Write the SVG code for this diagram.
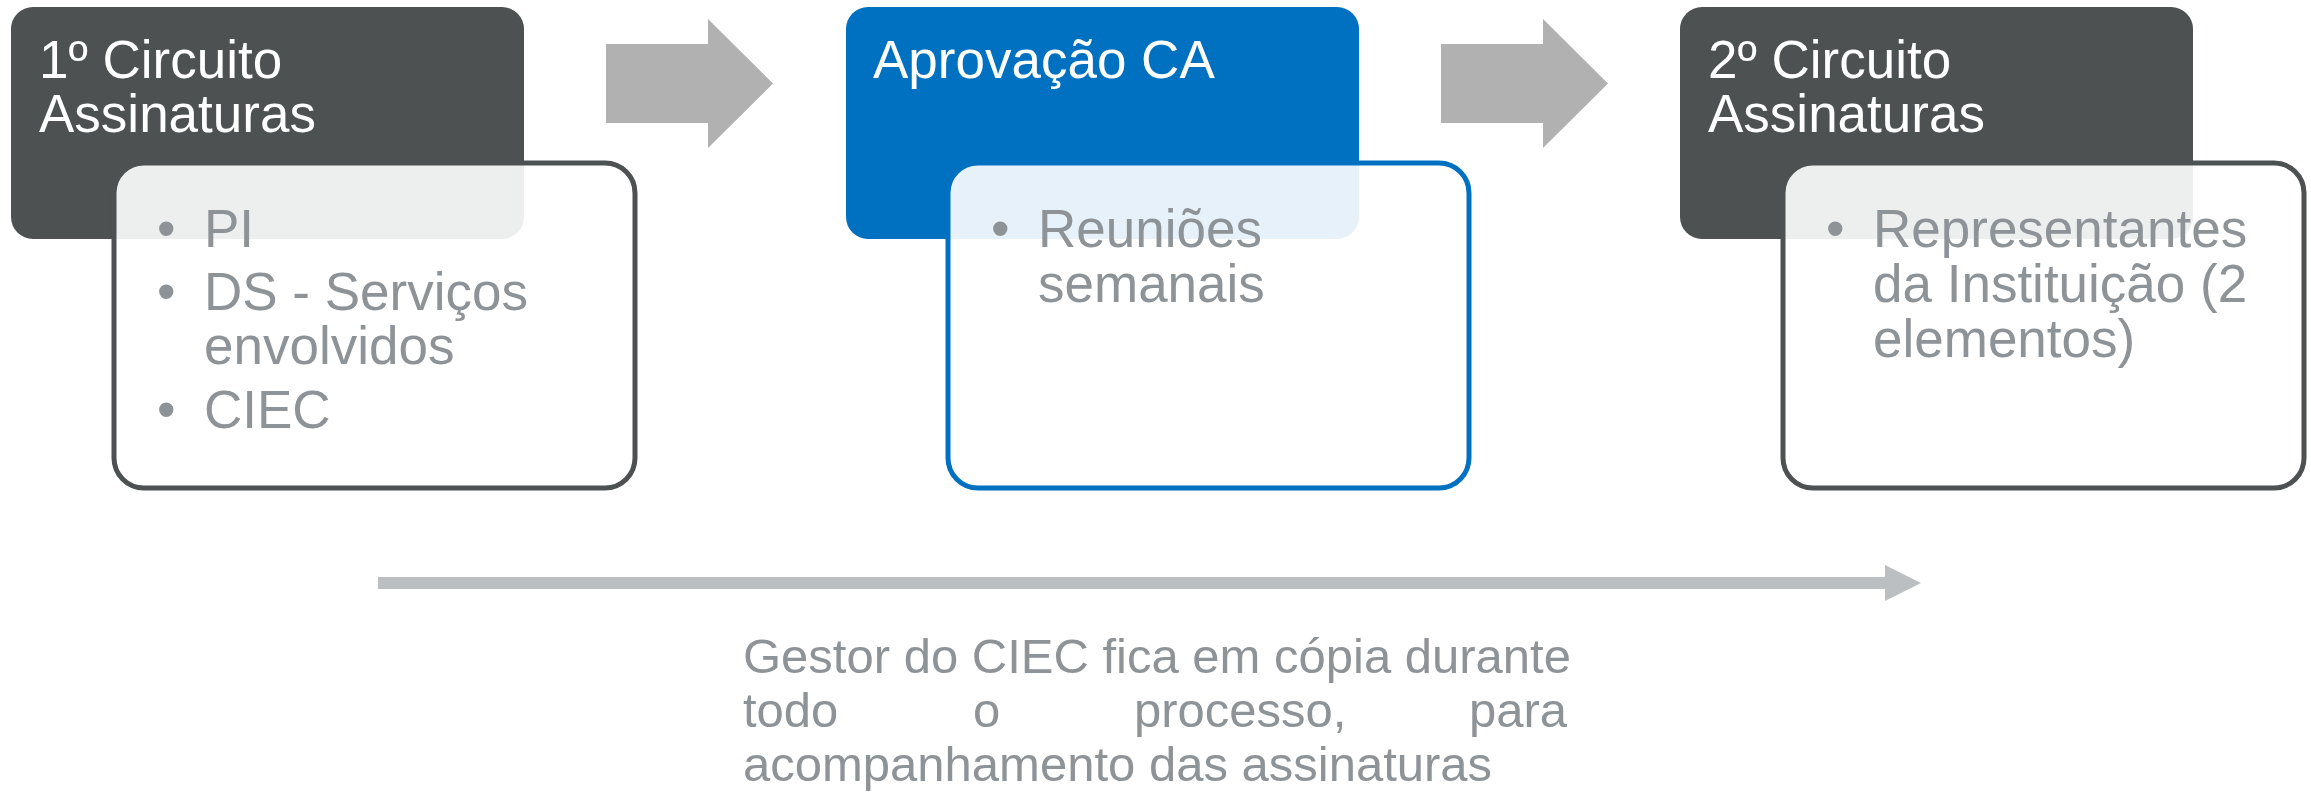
<svg xmlns="http://www.w3.org/2000/svg" width="2311" height="793" viewBox="0 0 2311 793">
<style>
.hdr{font-family:"Liberation Sans",Arial,sans-serif;font-size:53px;fill:#ffffff}
.bul{font-family:"Liberation Sans",Arial,sans-serif;font-size:53px;fill:#8e9398}
.note{font-family:"Liberation Sans",Arial,sans-serif;font-size:49px;fill:#8e9398}
.dark{fill:#4d5152}
.blue{fill:#0070c0}
.card{fill:#ffffff;fill-opacity:0.9;stroke-width:5}
.step{fill:#b0b1b0}
</style>
<rect width="2311" height="793" fill="#ffffff"/>
<g id="connectors">
<polygon class="step" points="606,44 708,44 708,19 773,83.5 708,148 708,123 606,123"/>
<polygon class="step" points="1441,44 1543,44 1543,19 1608,83.5 1543,148 1543,123 1441,123"/>
<polygon fill="#bbbfc2" points="378,577 1885,577 1885,565 1921,583 1885,601 1885,589 378,589"/>
</g>
<g id="node1">
<rect class="dark" x="11" y="7" width="513" height="232" rx="22"/>
<text class="hdr" x="39" y="78">1º Circuito</text>
<text class="hdr" x="39" y="132">Assinaturas</text>
<rect class="card" x="114" y="163" width="521" height="325" rx="30" stroke="#4d5152"/>
<text class="bul" x="157" y="247">•</text>
<text class="bul" x="204" y="247">PI</text>
<text class="bul" x="157" y="310">•</text>
<text class="bul" x="204" y="310">DS - Serviços</text>
<text class="bul" x="204" y="364">envolvidos</text>
<text class="bul" x="157" y="428">•</text>
<text class="bul" x="204" y="428">CIEC</text>
</g>
<g id="node2">
<rect class="blue" x="846" y="7" width="513" height="232" rx="22"/>
<text class="hdr" x="873" y="78">Aprovação CA</text>
<rect class="card" x="948" y="163" width="521" height="325" rx="30" stroke="#0070c0"/>
<text class="bul" x="991" y="247">•</text>
<text class="bul" x="1038" y="247">Reuniões</text>
<text class="bul" x="1038" y="302">semanais</text>
</g>
<g id="node3">
<rect class="dark" x="1680" y="7" width="513" height="232" rx="22"/>
<text class="hdr" x="1708" y="78">2º Circuito</text>
<text class="hdr" x="1708" y="132">Assinaturas</text>
<rect class="card" x="1783" y="163" width="521" height="325" rx="30" stroke="#4d5152"/>
<text class="bul" x="1826" y="247">•</text>
<text class="bul" x="1873" y="247">Representantes</text>
<text class="bul" x="1873" y="302">da Instituição (2</text>
<text class="bul" x="1873" y="357">elementos)</text>
</g>
<g id="note">
<text class="note" x="743" y="673">Gestor do CIEC fica em cópia durante</text>
<text class="note" x="743" y="727">todo</text>
<text class="note" x="973" y="727">o</text>
<text class="note" x="1134" y="727">processo,</text>
<text class="note" x="1567" y="727" text-anchor="end">para</text>
<text class="note" x="743" y="781">acompanhamento das assinaturas</text>
</g>
</svg>
